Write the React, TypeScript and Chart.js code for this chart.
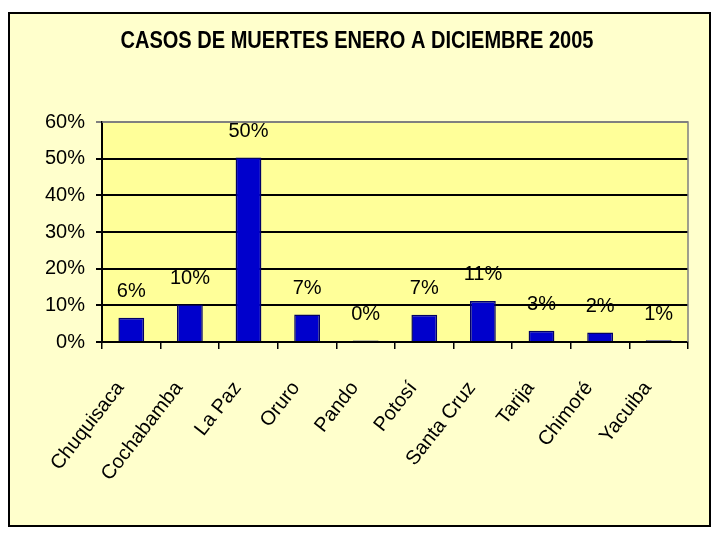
import React, { useEffect, useRef } from "react";
import { Chart, registerables } from "chart.js";

Chart.register(...registerables);

const chartTitle = "CASOS DE MUERTES ENERO A DICIEMBRE 2005";
const categories = [
  "Chuquisaca",
  "Cochabamba",
  "La Paz",
  "Oruro",
  "Pando",
  "Potosí",
  "Santa Cruz",
  "Tarija",
  "Chimoré",
  "Yacuiba",
];
const values = [6.6, 10.2, 50.3, 7.5, 0.4, 7.4, 11.2, 3.1, 2.6, 0.5];
const valueLabels = ["6%", "10%", "50%", "7%", "0%", "7%", "11%", "3%", "2%", "1%"];
const yMin = 0;
const yMax = 60;
const yStep = 10;

const FONT = '"Liberation Sans", Arial, sans-serif';

const framePlugin = {
  id: "frame",
  beforeDraw(chart: any) {
    const { ctx, chartArea } = chart;
    ctx.save();
    ctx.fillStyle = "#ffffff";
    ctx.fillRect(0, 0, chart.width, chart.height);
    ctx.fillStyle = "#FFFFCC";
    ctx.fillRect(9, 13, 701, 513);
    ctx.strokeStyle = "#000000";
    ctx.lineWidth = 2;
    ctx.strokeRect(9, 13, 701, 513);
    ctx.fillStyle = "#FFFF99";
    ctx.fillRect(chartArea.left, chartArea.top, chartArea.right - chartArea.left, chartArea.bottom - chartArea.top);
    ctx.fillStyle = "#000";
    ctx.font = `bold 24px ${FONT}`;
    ctx.textAlign = "center";
    ctx.textBaseline = "middle";
    const w = ctx.measureText(chartTitle).width;
    const sx = 473 / w;
    ctx.translate(357, 41);
    ctx.scale(sx, 1);
    ctx.fillText(chartTitle, 0, 0);
    ctx.restore();
  },
  afterDatasetsDraw(chart: any) {
    const { ctx, chartArea } = chart;
    ctx.save();
    ctx.strokeStyle = "#808080";
    ctx.lineWidth = 1.5;
    ctx.beginPath();
    ctx.moveTo(chartArea.left, chartArea.top);
    ctx.lineTo(chartArea.right, chartArea.top);
    ctx.lineTo(chartArea.right, chartArea.bottom);
    ctx.stroke();
    const meta = chart.getDatasetMeta(0);
    ctx.fillStyle = "#000";
    ctx.font = `20px ${FONT}`;
    ctx.textAlign = "center";
    ctx.textBaseline = "middle";
    meta.data.forEach((el: any, i: number) => {
      ctx.fillText(valueLabels[i], el.x, el.y - 26);
    });
    ctx.restore();
  },
};

export default function App() {
  const ref = useRef<HTMLCanvasElement | null>(null);
  useEffect(() => {
    if (!ref.current) return;
    const chart = new Chart(ref.current, {
      type: "bar",
      data: {
        labels: categories,
        datasets: [
          {
            data: values,
            backgroundColor: "#0000CC",
            borderColor: "#000066",
            borderWidth: 1.5,
            barPercentage: 0.44,
            categoryPercentage: 1,
          },
        ],
      },
      options: {
        responsive: false,
        animation: false,
        layout: { padding: { top: 122, right: 32, left: 0, bottom: 0 } },
        plugins: {
          legend: { display: false },
          title: { display: false },
          tooltip: { enabled: false },
        },
        scales: {
          x: {
            type: "category",
            offset: true,
            grid: {
              offset: true,
              drawOnChartArea: false,
              drawTicks: true,
              tickLength: 7,
              color: "#000",
              lineWidth: 1.5,
            },
            border: { color: "#000", width: 2 },
            ticks: {
              minRotation: 52,
              maxRotation: 52,
              autoSkip: false,
              color: "#000",
              font: { family: FONT, size: 20 },
              padding: 28,
              labelOffset: -11,
            },
            afterFit: (s: any) => {
              s.height = 198;
            },
          },
          y: {
            min: yMin,
            max: yMax,
            ticks: {
              stepSize: yStep,
              color: "#000",
              font: { family: FONT, size: 20 },
              padding: 11,
              callback: (v: any) => `${v}%`,
            },
            grid: {
              color: (c: any) => (c.tick && c.tick.value === yMax ? "#808080" : "#000"),
              lineWidth: 2,
              tickLength: 6,
              drawTicks: true,
            },
            border: { color: "#000", width: 2 },
            afterFit: (s: any) => {
              s.width = 102;
            },
          },
        },
      },
      plugins: [framePlugin],
    });
    return () => chart.destroy();
  }, []);
  return (
    <div style={{ position: "fixed", left: 0, top: 0, width: 720, height: 540, background: "#fff" }}>
      <canvas ref={ref} width={720} height={540} style={{ width: 720, height: 540, display: "block" }} />
    </div>
  );
}
